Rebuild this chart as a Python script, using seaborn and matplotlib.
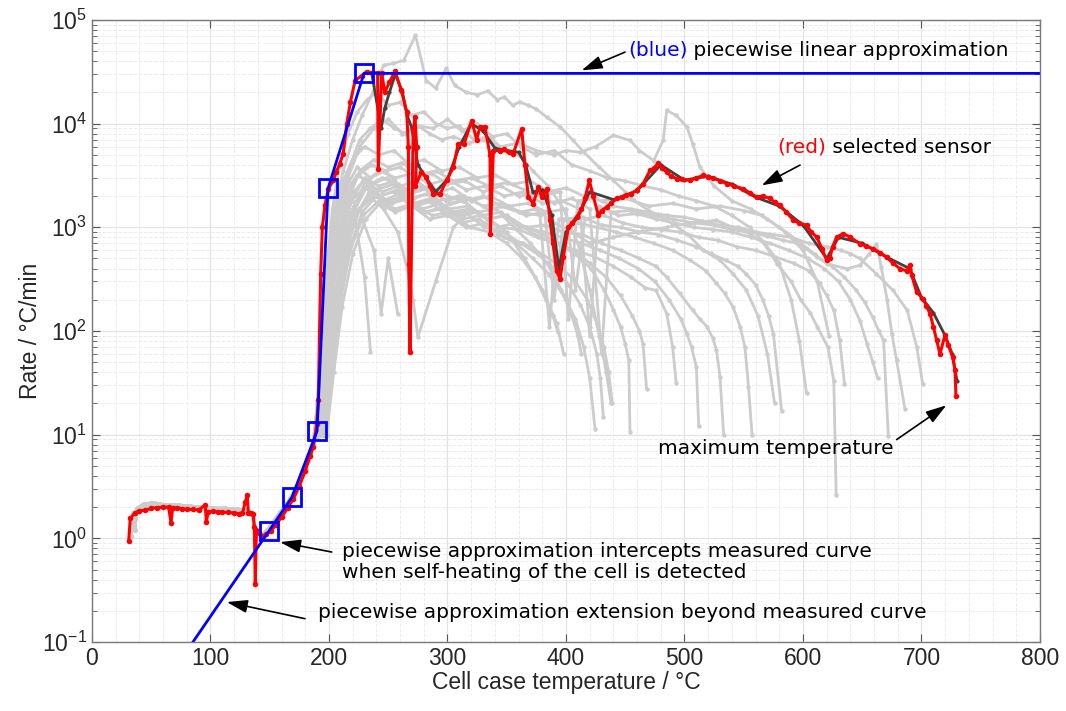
import matplotlib
matplotlib.use("Agg")
import matplotlib.pyplot as plt
from matplotlib.ticker import LogLocator, MultipleLocator, NullFormatter
import seaborn as sns
import pandas as pd

# ---- selected sensor (red) ----
red_T = [31, 32.3, 36, 40, 45, 50, 55, 60, 64.7, 66.7,
         68, 72, 76, 80, 85, 90, 95.6, 96.5, 98, 102,
         106, 110, 115, 120, 124, 127, 129.4, 131, 132, 134,
         136, 137, 137.8, 138.7, 141, 144.6, 147, 151, 155, 160,
         165, 170, 175, 180, 184, 186.8, 189.6, 191, 192, 193,
         194.4, 196.6, 199.4, 203.7, 206, 209, 212, 215, 218, 222,
         227.6, 231.8, 236, 241, 241.6, 244.5, 247, 251, 255.7, 261,
         265.6, 267, 267.3, 268.4, 271, 272.6, 274, 273, 278, 282,
         285, 288, 293.7, 299.3, 305, 309, 314, 320.4, 324.6, 327.4,
         331.6, 335.9, 336.2, 338.7, 344, 348, 352, 355.5, 362.6, 365.4,
         368.2, 372.4, 376.6, 379.5, 383.7, 386.5, 389, 392, 395, 397.7,
         402, 405, 409, 413, 416, 419.7, 423, 427.3, 430, 434.3,
         438, 442.8, 447, 451, 455, 459.6, 465.2, 470.9, 474, 477.9,
         481, 485, 489, 493.4, 498, 504.6, 510, 516, 520, 524.3,
         530, 535.6, 542, 549.6, 555, 561, 566, 572, 576, 580.6,
         586, 591.8, 597, 603, 607, 611.6, 616, 620, 622.6, 625,
         628.4, 634, 640, 648, 653, 659.3, 665, 670.6, 676, 682,
         687.5, 690.3, 691.7, 695.9, 701.5, 704, 707.2, 710, 712.8, 715.6,
         719.8, 722.6, 726.3, 728.3, 729.1]
red_R = [0.95, 1.56, 1.75, 1.85, 1.86, 1.95, 1.98, 2.0, 2.0, 1.4,
         1.95, 1.97, 1.93, 1.9, 1.9, 1.88, 2.1, 1.44, 1.8, 1.82,
         1.8, 1.78, 1.78, 1.75, 1.73, 1.75, 2.24, 2.6, 1.75, 1.74,
         1.7, 1.29, 0.36, 1.2, 1.12, 1.05, 1.1, 1.17, 1.35, 1.6,
         1.95, 2.4, 3.2, 4.5, 6.2, 7.6, 12.7, 21.5, 100, 357,
         1000, 1630, 2350, 2830, 3400, 4070, 5130, 10000, 16000, 26000,
         29000, 31800, 31000, 31000, 3670, 31000, 20000, 25000, 32000, 21000,
         12900, 5900, 447, 63, 8600, 11500, 5900, 2520, 3400, 3030,
         2500, 2100, 2100, 2830, 3800, 6350, 6350, 10700, 7000, 9300,
         9300, 4930, 870, 5500, 5500, 5700, 5300, 5130, 8900, 3960,
         1960, 1690, 2450, 1960, 2350, 1170, 700, 380, 318, 515,
         1000, 1100, 1260, 1500, 1900, 2830, 2000, 1300, 1450, 1570,
         1700, 1900, 1950, 2040, 2100, 2280, 2640, 3540, 3700, 4160,
         3700, 3400, 3100, 2950, 2900, 2830, 3000, 3160, 3050, 3000,
         2800, 2640, 2500, 2350, 2150, 1960, 2000, 1900, 1750, 1630,
         1400, 1170, 1100, 1045, 900, 804, 620, 480, 500, 650,
         804, 870, 800, 695, 660, 620, 570, 515, 450, 398,
         380, 430, 345, 237, 204, 175, 147, 110, 81, 60,
         91, 73, 56, 42, 23.5]

# ---- neighbouring sensor hidden under the red one (dark grey) ----
dark_T = [236, 244, 247, 251, 256, 262, 266, 270, 275, 282,
          290, 300, 310, 320, 330, 340, 350, 360, 366, 372,
          380, 388, 394, 400, 410, 420, 440, 460, 480, 500,
          520, 540, 560, 580, 600, 620, 630, 650, 670, 690,
          700, 710, 720, 726, 730]
dark_R = [31000, 9000, 14000, 20000, 30000, 20000, 12000, 9000, 4000, 3000,
          2200, 2900, 6000, 10000, 8500, 5800, 5500, 5300, 4000, 2200,
          2300, 1300, 400, 900, 1250, 2200, 1850, 2250, 4000, 2850,
          3100, 2600, 1950, 1600, 1050, 500, 800, 700, 520, 400,
          210, 150, 90, 60, 33]

# ---- piecewise linear approximation (blue) ----
blue_T = [80, 149.6, 168.8, 189.9, 199.2, 229.5, 800]
blue_R = [0.082, 1.19, 2.5, 10.8, 2370, 30500, 30500]
knot_T = [149.6, 168.8, 189.9, 199.2, 229.5]
knot_R = [1.19, 2.5, 10.8, 2370, 30500]

# ---- all other sensors (light grey) ----
onsetA_T = [33, 35, 40, 47, 55, 65, 75, 85, 95, 105,
            115, 125, 132, 136, 138, 141, 145, 150, 156, 162,
            168, 174, 180, 184, 187]
onsetA_R = [1.05, 1.75, 1.95, 2.05, 2.05, 2.0, 2.0, 1.95, 1.9, 1.88,
            1.85, 1.82, 1.8, 1.6, 1.05, 1.0, 1.1, 1.25, 1.55, 1.9,
            2.4, 3.2, 4.6, 6.5, 9.0]
onsetB_T = [36, 38, 44, 52, 62, 72, 82, 92, 102, 112,
            122, 130, 135, 139, 143, 148, 153, 159, 165, 171,
            177, 182, 186, 189]
onsetB_R = [1.2, 1.95, 2.15, 2.2, 2.1, 2.1, 2.05, 2.0, 1.95, 1.95,
            1.9, 1.88, 1.75, 1.0, 1.05, 1.2, 1.45, 1.8, 2.2, 2.9,
            4.0, 5.6, 7.5, 10]

g01_T = [192, 196, 200, 205, 212, 220, 228, 237, 246, 254, 263, 273, 282, 290, 299, 306, 316, 325, 334, 342,
         348, 355, 361, 368, 375, 384, 395, 406, 415, 428, 440, 450, 457, 470, 485, 502, 516, 530, 541, 552,
         562, 570, 576]
g01_R = [30, 120, 500, 1500, 3500, 7000, 12000, 20000, 36500, 38000, 40700, 71000, 26000, 22000, 34000, 23400, 20000, 19000, 20600, 17000,
         18000, 15000, 16200, 15000, 13800, 11500, 9300, 6900, 5300, 3800, 2830, 2200, 1820, 1450, 1170, 870, 600, 480, 355, 250,
         140, 60, 20]
g02_T = [191, 195, 199, 204, 210, 218, 226, 235, 245, 255, 265, 275, 285, 295, 305, 318, 330, 345, 360, 375,
         390, 400, 412, 425, 440, 454, 462, 474, 482, 485, 493, 502, 507, 513, 525, 540, 556, 570, 585, 600,
         612, 622]
g02_R = [20, 80, 300, 900, 2000, 4000, 7000, 9000, 11000, 9000, 8000, 9500, 8000, 7000, 7500, 6500, 7000, 6000, 6500, 5500,
         5000, 5500, 5300, 6000, 7700, 6900, 5500, 4400, 6900, 13400, 12000, 9300, 6350, 3800, 2500, 1800, 1500, 1200, 900, 600,
         300, 90]
g03_T = [194, 198, 203, 210, 220, 232, 245, 258, 270, 285, 300, 315, 330, 345, 360, 375, 390, 405, 420, 440,
         460, 485, 505, 527, 545, 555, 567, 578, 590, 598, 606, 612, 621, 626, 628]
g03_R = [15, 60, 250, 700, 1500, 2500, 3000, 2600, 2200, 2500, 2000, 1800, 2000, 1600, 1400, 1500, 1100, 900, 700, 800,
         900, 1000, 1100, 1170, 950, 870, 700, 447, 300, 200, 150, 110, 70, 33, 2.6]
g04_T = [190, 194, 198, 203, 210, 220, 230, 242, 255, 268, 280, 295, 310, 325, 340, 355, 370, 385, 400, 415,
         430, 450, 470, 490, 510, 530, 550, 565, 580, 595, 610, 620, 637, 648, 656, 662, 666, 671, 675, 679,
         686]
g04_R = [15, 70, 300, 1000, 2500, 4500, 6000, 5000, 5500, 4000, 4500, 3500, 3800, 3000, 3200, 2600, 2800, 2200, 2400, 2000,
         1800, 1900, 1600, 1700, 1500, 1600, 1450, 1300, 1000, 750, 550, 447, 398, 430, 556, 695, 415, 200, 94, 52,
         17.8]
g05_T = [192, 197, 202, 208, 216, 226, 238, 250, 262, 275, 290, 305, 320, 335, 350, 365, 380, 395, 402, 410,
         425, 440, 455, 470, 485, 500, 515, 530, 545, 560, 575, 590, 605, 620, 632, 640, 648, 662, 676, 688,
         696, 701]
g05_R = [12, 50, 200, 700, 1800, 3500, 4500, 3800, 4200, 3200, 3500, 2800, 3000, 2500, 2700, 2300, 2000, 2200, 130, 1800,
         1900, 1600, 1500, 1400, 1300, 1250, 1150, 1050, 1000, 900, 850, 800, 700, 650, 600, 556, 500, 355, 246, 158,
         70, 31]
g06_T = [191, 196, 201, 207, 215, 225, 236, 248, 260, 273, 287, 300, 315, 330, 345, 360, 375, 390, 405, 420,
         430, 438, 455, 472, 490, 508, 525, 540, 555, 570, 583, 597, 612, 625, 635, 645, 652, 659, 664, 668,
         672]
g06_R = [14, 60, 250, 800, 2000, 3200, 4000, 3500, 3800, 3000, 3300, 2600, 2800, 2200, 2500, 2000, 2100, 1700, 1900, 1500,
         60, 1400, 1450, 1300, 1200, 1100, 1050, 950, 900, 820, 750, 695, 515, 415, 330, 246, 190, 135, 100, 81,
         9.8]
g07_T = [193, 198, 204, 211, 220, 231, 243, 256, 270, 285, 300, 316, 332, 348, 364, 380, 396, 412, 420, 428,
         444, 460, 476, 492, 508, 524, 540, 556, 572, 588, 604, 618, 630, 640, 648, 654, 659, 663]
g07_R = [10, 40, 180, 600, 1500, 2800, 3500, 3000, 3300, 2600, 2900, 2300, 2500, 2000, 2200, 1700, 1800, 1500, 90, 1600,
         1300, 1350, 1200, 1100, 1000, 950, 900, 800, 700, 600, 500, 400, 300, 200, 126, 75, 50, 35]
g08_T = [190, 195, 200, 206, 214, 224, 235, 247, 260, 274, 289, 304, 320, 336, 352, 368, 384, 400, 408, 416,
         432, 448, 464, 480, 496, 512, 528, 544, 560, 576, 592, 605, 614, 620, 626, 631, 635]
g08_R = [18, 80, 350, 1100, 2400, 3800, 3000, 3500, 2500, 2800, 2100, 2400, 1800, 2000, 1600, 1700, 1400, 1500, 250, 1200,
         1300, 1100, 1000, 950, 900, 800, 750, 650, 600, 520, 450, 380, 288, 220, 158, 81, 31]
g09_T = [195, 200, 206, 213, 222, 233, 245, 258, 272, 287, 302, 318, 334, 350, 366, 382, 390, 398, 414, 430,
         446, 462, 478, 494, 510, 522, 535, 545, 552, 560, 566, 571, 575, 582]
g09_R = [10, 45, 200, 650, 1500, 2600, 2200, 2500, 1900, 2200, 1700, 1900, 1500, 1600, 1300, 1400, 200, 1200, 1250, 1050,
         1000, 900, 850, 750, 650, 560, 480, 420, 355, 280, 200, 140, 94, 17]
g10_T = [192, 197, 203, 210, 219, 230, 242, 255, 269, 284, 299, 314, 330, 346, 362, 378, 386, 394, 410, 426,
         442, 458, 474, 490, 505, 518, 527, 534, 541, 547, 551, 554, 557]
g10_R = [12, 55, 230, 750, 1800, 3000, 2500, 2800, 2100, 2400, 1800, 2000, 1600, 1700, 1400, 1300, 110, 1200, 1100, 1000,
         900, 800, 700, 600, 480, 380, 288, 230, 170, 110, 70, 29, 10]
g11_T = [196, 201, 207, 214, 223, 234, 246, 259, 273, 288, 303, 318, 334, 350, 366, 382, 398, 414, 430, 446,
         462, 476, 485, 496, 507, 513, 519, 524, 527, 530, 533]
g11_R = [10, 40, 170, 550, 1300, 2200, 1800, 2100, 1600, 1800, 1400, 1500, 1200, 1300, 1000, 1050, 900, 850, 700, 600,
         500, 420, 330, 230, 158, 130, 110, 85, 65, 36, 10]
g12_T = [193, 199, 205, 212, 221, 232, 244, 257, 271, 286, 301, 317, 333, 349, 365, 381, 397, 413, 429, 445,
         461, 475, 487, 497, 502, 506, 510, 512]
g12_R = [11, 50, 210, 700, 1600, 2500, 2000, 2300, 1700, 1900, 1500, 1600, 1200, 1300, 1000, 900, 800, 700, 600, 500,
         400, 300, 200, 130, 94, 70, 45, 12]
g13_T = [197, 203, 210, 218, 228, 240, 253, 267, 282, 297, 312, 328, 344, 360, 376, 392, 408, 424, 440, 455,
         467, 476, 485, 490, 493]
g13_R = [10, 45, 200, 650, 1400, 2000, 1700, 1900, 1400, 1600, 1200, 1300, 1000, 950, 800, 700, 600, 520, 420, 330,
         260, 246, 147, 70, 31.6]
g14_T = [194, 200, 207, 215, 225, 237, 250, 264, 279, 294, 310, 326, 342, 358, 374, 390, 406, 420, 434, 446,
         456, 462, 465, 468]
g14_R = [13, 55, 230, 700, 1500, 2200, 1800, 2000, 1500, 1700, 1300, 1400, 1000, 1100, 850, 700, 600, 450, 330, 220,
         140, 100, 75, 27.7]
g15_T = [191, 196, 202, 209, 218, 229, 241, 254, 268, 283, 298, 313, 329, 345, 361, 377, 393, 408, 421, 432,
         440, 446, 450, 453, 454]
g15_R = [16, 70, 300, 900, 2000, 2800, 2300, 2600, 1900, 2100, 1600, 1800, 1300, 1400, 1000, 900, 700, 550, 400, 250,
         160, 110, 75, 52, 10.6]
g16_T = [198, 204, 211, 220, 231, 243, 256, 270, 285, 300, 316, 332, 348, 364, 380, 395, 408, 418, 426, 432,
         436, 439]
g16_R = [10, 40, 170, 550, 1200, 1700, 1400, 1600, 1200, 1300, 1000, 1100, 800, 700, 550, 420, 300, 200, 120, 70,
         40, 20]
g17_T = [192, 197, 203, 210, 219, 230, 242, 255, 269, 284, 299, 315, 331, 347, 362, 376, 390, 402, 412, 420,
         426, 429, 431.5]
g17_R = [14, 60, 260, 800, 1800, 2400, 2000, 2200, 1600, 1800, 1300, 1400, 1000, 900, 700, 550, 400, 280, 180, 110,
         60, 35, 14.8]
g18_T = [195, 201, 208, 216, 226, 238, 251, 265, 280, 295, 311, 327, 343, 358, 372, 386, 398, 408, 415, 420,
         424.5]
g18_R = [11, 50, 220, 700, 1500, 2000, 1700, 1900, 1400, 1500, 1100, 1200, 850, 700, 500, 350, 220, 130, 70, 35,
         11.4]
g19_T = [190, 195, 200, 206, 214, 224, 236, 249, 263, 278, 293, 309, 325, 341, 356, 370, 384, 396, 405, 410, 413]
g19_R = [17, 75, 320, 1000, 2200, 3200, 2600, 3000, 2200, 2500, 1800, 2000, 1400, 1500, 1000, 700, 450, 250, 140, 90, 60]
g20_T = [196, 202, 209, 218, 229, 242, 256, 271, 287, 303, 319, 335, 350, 363, 374, 383, 389, 393]
g20_R = [10, 45, 190, 600, 1300, 1800, 1500, 1700, 1300, 1400, 1000, 900, 700, 500, 330, 200, 140, 98]
g21_T = [189, 194, 199, 205, 213, 222, 230, 235]
g21_R = [12, 50, 200, 700, 1600, 1200, 330, 63]
g22_T = [193, 198, 204, 212, 222, 234, 246, 258, 266, 271, 275, 290, 305, 320, 335, 350, 365, 380, 392, 398]
g22_R = [10, 40, 180, 600, 1300, 2000, 1500, 900, 400, 200, 87, 300, 1000, 1500, 1200, 900, 500, 250, 120, 60]
g23_T = [195, 201, 208, 217, 228, 238, 244, 250, 258]
g23_R = [10, 45, 200, 650, 1200, 600, 147, 500, 147]
g24_T = [192, 197, 202, 208, 216, 226, 238, 250, 262, 275, 288, 300, 312, 325, 338, 350, 362, 375, 390, 405,
         420, 435, 450, 465, 480, 495, 510, 525, 540, 555, 568, 580, 590, 597, 603]
g24_R = [20, 90, 400, 1300, 3000, 6000, 9000, 11000, 8000, 9500, 9000, 11000, 8500, 10000, 7500, 8000, 6000, 5000, 5500, 4000,
         3500, 3000, 2800, 2500, 2300, 2000, 1800, 1600, 1300, 1000, 700, 450, 200, 80, 25]
g25_T = [190, 194, 198, 203, 209, 216, 224, 232, 240, 250, 260, 270, 280, 290, 300, 310, 322, 335, 348, 360,
         372, 385, 398, 410, 420, 428, 434, 438]
g25_R = [20, 90, 400, 1500, 4000, 8000, 13000, 17000, 20000, 15000, 16000, 12000, 13000, 10000, 9000, 9500, 7000, 7500, 5500, 5000,
         3500, 2500, 1500, 700, 250, 90, 40, 20]

gray_curves = [(g01_T, g01_R), (g02_T, g02_R), (g03_T, g03_R), (g04_T, g04_R), (g05_T, g05_R),
               (g06_T, g06_R), (g07_T, g07_R), (g08_T, g08_R), (g09_T, g09_R), (g10_T, g10_R),
               (g11_T, g11_R), (g12_T, g12_R), (g13_T, g13_R), (g14_T, g14_R), (g15_T, g15_R),
               (g16_T, g16_R), (g17_T, g17_R), (g18_T, g18_R), (g19_T, g19_R), (g20_T, g20_R),
               (g21_T, g21_R), (g22_T, g22_R), (g23_T, g23_R), (g24_T, g24_R), (g25_T, g25_R)]

rows = []
for k, (t, r) in enumerate(gray_curves):
    # alternate between the two onset traces seen in the low-temperature band
    on_t, on_r = (onsetA_T, onsetA_R) if k % 2 == 0 else (onsetB_T, onsetB_R)
    for x, y in zip(on_t + t, on_r + r):
        rows.append((k, x, y))
gray_df = pd.DataFrame(rows, columns=["sensor", "T", "R"])

# ---- style ----
sns.set_theme(style="ticks")
plt.rcParams['font.family'] = ['DejaVu Sans']
plt.rcParams['mathtext.fontset'] = 'custom'
plt.rcParams['mathtext.rm'] = 'Liberation Sans'
plt.rcParams['mathtext.it'] = 'Liberation Sans'
plt.rcParams['mathtext.default'] = 'regular'
plt.rcParams['axes.unicode_minus'] = False

fig, ax = plt.subplots(figsize=(10.66, 7.11), dpi=100)
fig.subplots_adjust(left=0.0863, right=0.9756, bottom=0.097, top=0.972)
ax.set_yscale('log')

sns.lineplot(data=gray_df, x="T", y="R", units="sensor", estimator=None, sort=False,
             color="#cccccc", lw=2, marker="o", markersize=3.2, markeredgewidth=0, ax=ax)
sns.lineplot(x=dark_T, y=dark_R, sort=False, estimator=None, color="#404040", lw=2,
             marker="o", markersize=3, markeredgewidth=0, ax=ax)
sns.lineplot(x=red_T, y=red_R, sort=False, estimator=None, color="red", lw=2.2,
             marker="o", markersize=4, markeredgewidth=0, ax=ax)
sns.lineplot(x=blue_T, y=blue_R, sort=False, estimator=None, color="blue", lw=2, ax=ax)
sns.lineplot(x=knot_T, y=knot_R, sort=False, estimator=None, color="blue", ls="", marker="s",
             markersize=12.5, markerfacecolor="none", markeredgecolor="blue", markeredgewidth=2, ax=ax)

ax.set_xlim(0, 800)
ax.set_ylim(0.1, 1e5)
ax.xaxis.set_major_locator(MultipleLocator(100))
ax.xaxis.set_minor_locator(MultipleLocator(20))
ax.yaxis.set_major_locator(LogLocator(base=10, numticks=12))
ax.yaxis.set_minor_locator(LogLocator(base=10, subs=range(2, 10), numticks=12))
ax.yaxis.set_minor_formatter(NullFormatter())

ax.grid(which="major", color="#e3e3e3", lw=0.9)
ax.grid(which="minor", color="#ececec", lw=0.7, ls="--")
ax.set_axisbelow(True)
for s in ax.spines.values():
    s.set_visible(True)
    s.set_color("#7a7a7a")
    s.set_linewidth(1)
ax.tick_params(which="both", direction="in", top=True, right=True, color="#555555",
               labelsize=16.5, labelcolor="#262626", labelfontfamily="Liberation Sans")
ax.tick_params(which="major", length=6, width=0.8)
ax.tick_params(axis="y", which="minor", length=3.5, width=0.6)
ax.tick_params(axis="x", which="minor", length=0)

ax.set_xlabel("Cell case temperature / °C", fontsize=16.5, family="Liberation Sans",
              color="#262626", labelpad=1)
ax.set_ylabel("Rate / °C/min", fontsize=16.5, family="Liberation Sans",
              color="#262626", labelpad=0)

# ---- annotations ----
arrow = dict(arrowstyle="-|>,head_length=0.7,head_width=0.22", color="black", lw=1.2,
             shrinkA=0, shrinkB=0, mutation_scale=18)
fs = 14.5

ax.annotate("", xy=(413.2, 32600), xytext=(449.8, 48900), arrowprops=arrow)
tb = ax.text(452.3, 50800, "(blue)", color="blue", fontsize=fs, va="center", ha="left")
ax.annotate(" piecewise linear approximation", xy=(1, 0), xycoords=tb, va="bottom", ha="left",
            fontsize=fs, color="black")

ax.annotate("", xy=(565.1, 2535), xytext=(597.5, 3980), arrowprops=arrow)
tr = ax.text(578.1, 5890, "(red)", color="red", fontsize=fs, va="center", ha="left")
ax.annotate(" selected sensor", xy=(1, 0), xycoords=tr, va="bottom", ha="left",
            fontsize=fs, color="black")

ax.annotate("", xy=(721, 19.2), xytext=(679, 8.96), arrowprops=arrow)
ax.text(477.6, 7.38, "maximum temperature", fontsize=fs, va="center", ha="left", color="black")

ax.annotate("", xy=(158.6, 0.92), xytext=(202.3, 0.738), arrowprops=arrow)
ax.text(211, 0.587, "piecewise approximation intercepts measured curve\nwhen self-heating of the cell is detected",
        fontsize=fs, va="center", ha="left", linespacing=1.15, color="black")

ax.annotate("", xy=(113.7, 0.243), xytext=(179.7, 0.168), arrowprops=arrow)
ax.text(190.7, 0.193, "piecewise approximation extension beyond measured curve", fontsize=fs,
        va="center", ha="left", color="black")

fig.savefig("out.png", dpi=100)
